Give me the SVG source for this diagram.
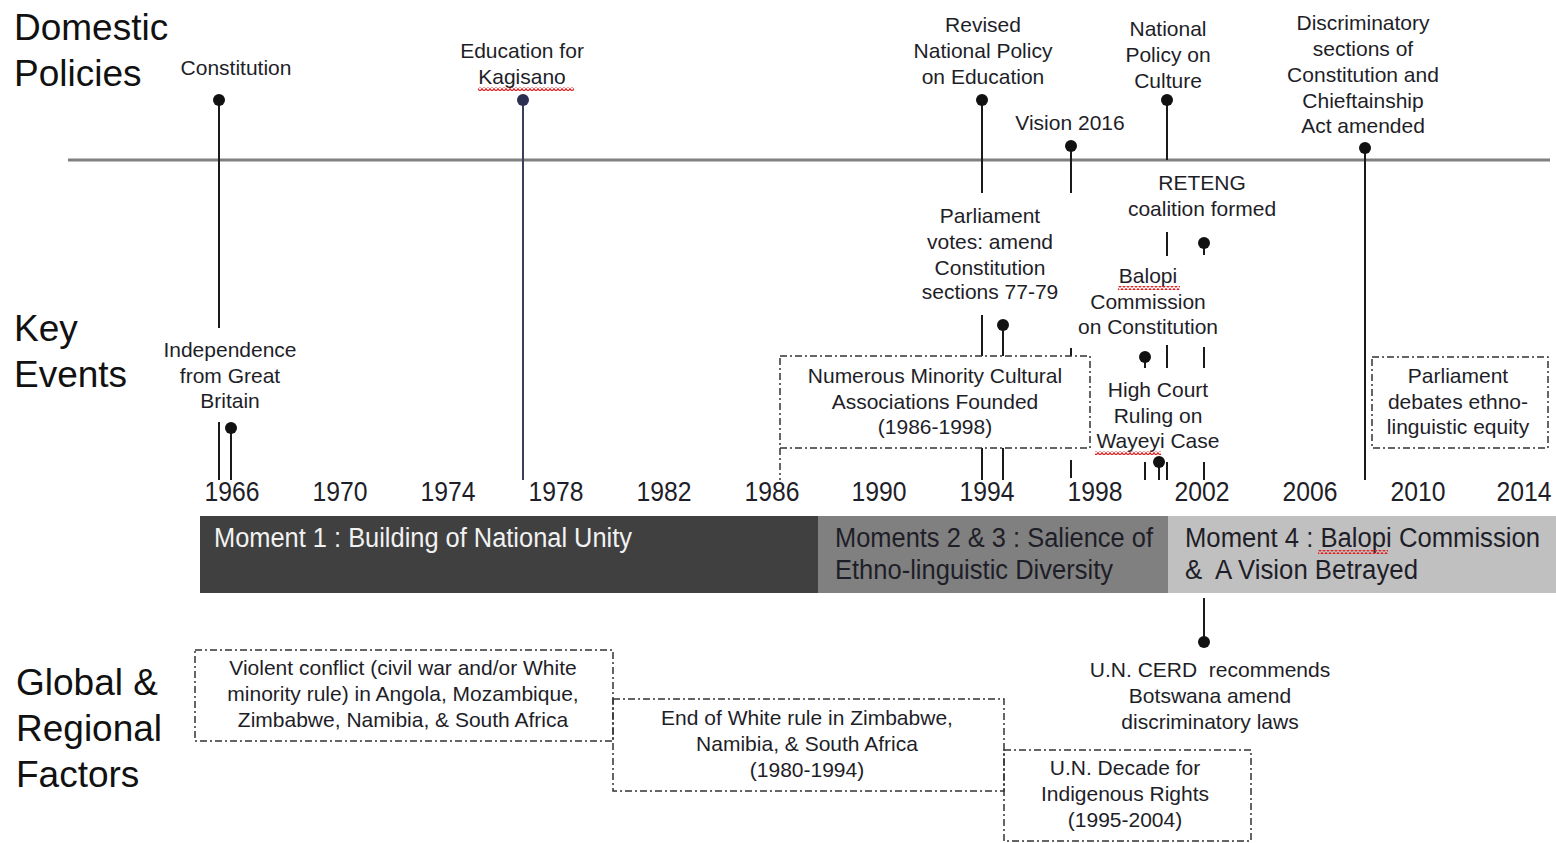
<svg xmlns="http://www.w3.org/2000/svg" width="1556" height="843" viewBox="0 0 1556 843">
<style>
text{font-family:"Liberation Sans",Arial,sans-serif;fill:#1e1e28}
.h{font-size:37px;fill:#111}
.l{font-size:21px;text-anchor:middle}
.y{font-size:28px;text-anchor:middle}
.m{font-size:27px}
.v{stroke:#1a1a1a;stroke-width:2;fill:none}
.dd{stroke:#333;stroke-width:1.5;fill:none;stroke-dasharray:7 3 2 3}
.dot{fill:#111}
</style>
<defs>
<pattern id="sq" width="4" height="4" patternUnits="userSpaceOnUse"><path d="M0 3.3 L2 0.7 L4 3.3" stroke="#e02020" stroke-width="1.2" fill="none"/></pattern>
</defs>
<rect width="1556" height="843" fill="#fff"/>

<g id="headings">
<text class="h" x="14" y="40">Domestic</text>
<text class="h" x="14" y="86">Policies</text>
<text class="h" x="14" y="341">Key</text>
<text class="h" x="14" y="387">Events</text>
<text class="h" x="16" y="695">Global &amp;</text>
<text class="h" x="16" y="741">Regional</text>
<text class="h" x="16" y="787">Factors</text>
</g>

<g id="axis">
<line x1="68" y1="160" x2="1550" y2="160" stroke="#808080" stroke-width="3"/>
</g>

<g id="connectors">
<line class="v" x1="219" y1="100" x2="219" y2="328" stroke="#333"/>
<line class="v" x1="219" y1="422" x2="219" y2="480"/>
<line class="v" x1="231" y1="428" x2="231" y2="480"/>
<line x1="523" y1="100" x2="523" y2="480" stroke="#3a3d5c" stroke-width="2"/>
<line class="v" x1="982" y1="100" x2="982" y2="193"/>
<line class="v" x1="982" y1="315" x2="982" y2="356"/>
<line class="v" x1="982" y1="448" x2="982" y2="480"/>
<line class="v" x1="1003" y1="325" x2="1003" y2="356"/>
<line class="v" x1="1003" y1="448" x2="1003" y2="480"/>
<line class="v" x1="1071" y1="146" x2="1071" y2="193"/>
<line class="v" x1="1071" y1="348" x2="1071" y2="356"/>
<line class="v" x1="1071" y1="460" x2="1071" y2="478"/>
<line class="v" x1="1167" y1="100" x2="1167" y2="160"/>
<line class="v" x1="1167" y1="232" x2="1167" y2="256"/>
<line class="v" x1="1167" y1="345" x2="1167" y2="368"/>
<line class="v" x1="1167" y1="462" x2="1167" y2="480"/>
<line class="v" x1="1204" y1="243" x2="1204" y2="255"/>
<line class="v" x1="1204" y1="347" x2="1204" y2="368"/>
<line class="v" x1="1204" y1="462" x2="1204" y2="480"/>
<line class="v" x1="1145" y1="357" x2="1145" y2="368"/>
<line class="v" x1="1145" y1="462" x2="1145" y2="480"/>
<line class="v" x1="1159" y1="462" x2="1159" y2="480"/>
<line class="v" x1="1365" y1="148" x2="1365" y2="480" stroke="#333" stroke-width="2.5"/>
<line class="v" x1="1204" y1="598" x2="1204" y2="642"/>
<line class="dd" x1="780" y1="448" x2="780" y2="480"/>
</g>

<g id="constitution">
<circle class="dot" cx="219" cy="100" r="6"/>
<text class="l" x="236" y="75">Constitution</text>
</g>
<g id="kagisano">
<circle cx="523" cy="100" r="6" fill="#2c2f4f"/>
<text class="l" x="522" y="58">Education for</text>
<text class="l" x="522" y="84">Kagisano</text>
<rect x="478" y="87" width="96" height="4" fill="url(#sq)"/>
</g>
<g id="revised-npe">
<circle class="dot" cx="982" cy="100" r="6"/>
<text class="l" x="983" y="32">Revised</text>
<text class="l" x="983" y="58">National Policy</text>
<text class="l" x="983" y="84">on Education</text>
</g>
<g id="vision2016">
<circle class="dot" cx="1071" cy="146" r="6"/>
<text class="l" x="1070" y="130">Vision 2016</text>
</g>
<g id="npc">
<circle class="dot" cx="1167" cy="100" r="6"/>
<text class="l" x="1168" y="36">National</text>
<text class="l" x="1168" y="62">Policy on</text>
<text class="l" x="1168" y="88">Culture</text>
</g>
<g id="discriminatory">
<circle class="dot" cx="1365" cy="148" r="6"/>
<text class="l" x="1363" y="30">Discriminatory</text>
<text class="l" x="1363" y="56">sections of</text>
<text class="l" x="1363" y="82">Constitution and</text>
<text class="l" x="1363" y="108">Chieftainship</text>
<text class="l" x="1363" y="133">Act amended</text>
</g>

<g id="independence">
<circle class="dot" cx="231" cy="428" r="6"/>
<text class="l" x="230" y="357">Independence</text>
<text class="l" x="230" y="383">from Great</text>
<text class="l" x="230" y="408">Britain</text>
</g>
<g id="parliament-votes">
<circle class="dot" cx="1003" cy="325" r="6"/>
<text class="l" x="990" y="223">Parliament</text>
<text class="l" x="990" y="249">votes: amend</text>
<text class="l" x="990" y="275">Constitution</text>
<text class="l" x="990" y="299">sections 77-79</text>
</g>
<g id="reteng">
<circle class="dot" cx="1204" cy="243" r="6"/>
<text class="l" x="1202" y="190">RETENG</text>
<text class="l" x="1202" y="216">coalition formed</text>
</g>
<g id="balopi">
<circle class="dot" cx="1145" cy="357" r="6"/>
<text class="l" x="1148" y="283">Balopi</text>
<text class="l" x="1148" y="309">Commission</text>
<text class="l" x="1148" y="334">on Constitution</text>
<rect x="1118" y="286" width="62" height="4" fill="url(#sq)"/>
</g>
<g id="high-court">
<circle class="dot" cx="1159" cy="462" r="6"/>
<text class="l" x="1158" y="397">High Court</text>
<text class="l" x="1158" y="423">Ruling on</text>
<text class="l" x="1158" y="448">Wayeyi Case</text>
<rect x="1095" y="451" width="66" height="4" fill="url(#sq)"/>
</g>
<g id="associations">
<rect class="dd" x="780" y="356" width="310" height="92"/>
<text class="l" x="935" y="383">Numerous Minority Cultural</text>
<text class="l" x="935" y="409">Associations Founded</text>
<text class="l" x="935" y="434">(1986-1998)</text>
</g>
<g id="parliament-debates">
<rect class="dd" x="1372" y="357" width="176" height="91"/>
<text class="l" x="1458" y="383">Parliament</text>
<text class="l" x="1458" y="409">debates ethno-</text>
<text class="l" x="1458" y="434">linguistic equity</text>
</g>

<g id="years">
<text class="y" x="232" y="501" textLength="55" lengthAdjust="spacingAndGlyphs">1966</text>
<text class="y" x="340" y="501" textLength="55" lengthAdjust="spacingAndGlyphs">1970</text>
<text class="y" x="448" y="501" textLength="55" lengthAdjust="spacingAndGlyphs">1974</text>
<text class="y" x="556" y="501" textLength="55" lengthAdjust="spacingAndGlyphs">1978</text>
<text class="y" x="664" y="501" textLength="55" lengthAdjust="spacingAndGlyphs">1982</text>
<text class="y" x="772" y="501" textLength="55" lengthAdjust="spacingAndGlyphs">1986</text>
<text class="y" x="879" y="501" textLength="55" lengthAdjust="spacingAndGlyphs">1990</text>
<text class="y" x="987" y="501" textLength="55" lengthAdjust="spacingAndGlyphs">1994</text>
<text class="y" x="1095" y="501" textLength="55" lengthAdjust="spacingAndGlyphs">1998</text>
<text class="y" x="1202" y="501" textLength="55" lengthAdjust="spacingAndGlyphs">2002</text>
<text class="y" x="1310" y="501" textLength="55" lengthAdjust="spacingAndGlyphs">2006</text>
<text class="y" x="1418" y="501" textLength="55" lengthAdjust="spacingAndGlyphs">2010</text>
<text class="y" x="1524" y="501" textLength="55" lengthAdjust="spacingAndGlyphs">2014</text>
</g>

<g id="moment1">
<rect x="200" y="516" width="618" height="77" fill="#404040"/>
<text class="m" x="214" y="547" style="fill:#f2f2f2" textLength="418" lengthAdjust="spacingAndGlyphs">Moment 1 : Building of National Unity</text>
</g>
<g id="moment23">
<rect x="818" y="516" width="350" height="77" fill="#808080"/>
<text class="m" x="835" y="547" textLength="318" lengthAdjust="spacingAndGlyphs">Moments 2 &amp; 3 : Salience of</text>
<text class="m" x="835" y="579" textLength="278" lengthAdjust="spacingAndGlyphs">Ethno-linguistic Diversity</text>
</g>
<g id="moment4">
<rect x="1168" y="516" width="388" height="77" fill="#c0c0c0"/>
<text class="m" x="1185" y="547" textLength="355" lengthAdjust="spacingAndGlyphs">Moment 4 : Balopi Commission</text>
<text class="m" x="1185" y="579" textLength="233" lengthAdjust="spacingAndGlyphs" xml:space="preserve">&amp;  A Vision Betrayed</text>
<rect x="1318" y="550" width="70" height="4" fill="url(#sq)"/>
</g>

<g id="cerd">
<circle class="dot" cx="1204" cy="642" r="6"/>
<text class="l" x="1210" y="677" xml:space="preserve">U.N. CERD  recommends</text>
<text class="l" x="1210" y="703">Botswana amend</text>
<text class="l" x="1210" y="729">discriminatory laws</text>
</g>
<g id="violent-conflict">
<rect class="dd" x="195" y="650" width="418" height="91"/>
<text class="l" x="403" y="675">Violent conflict (civil war and/or White</text>
<text class="l" x="403" y="701">minority rule) in Angola, Mozambique,</text>
<text class="l" x="403" y="727">Zimbabwe, Namibia, &amp; South Africa</text>
</g>
<g id="end-white-rule">
<rect class="dd" x="613" y="699" width="391" height="92"/>
<text class="l" x="807" y="725">End of White rule in Zimbabwe,</text>
<text class="l" x="807" y="751">Namibia, &amp; South Africa</text>
<text class="l" x="807" y="777">(1980-1994)</text>
</g>
<g id="un-decade">
<rect class="dd" x="1004" y="750" width="247" height="91"/>
<text class="l" x="1125" y="775">U.N. Decade for</text>
<text class="l" x="1125" y="801">Indigenous Rights</text>
<text class="l" x="1125" y="827">(1995-2004)</text>
</g>
</svg>
